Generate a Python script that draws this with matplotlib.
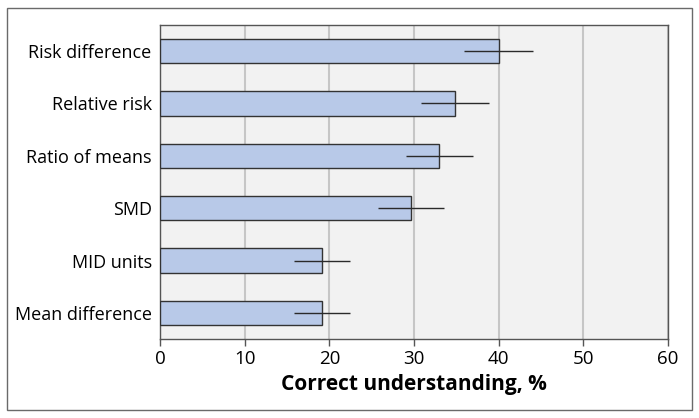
import numpy as np
import matplotlib
matplotlib.use('Agg')
import matplotlib.pyplot as plt
from matplotlib.patches import Rectangle

# ── Data ──
categories = ['Risk difference', 'Relative risk', 'Ratio of means',
              'SMD', 'MID units', 'Mean difference']
values = [40.0, 34.9, 33.0, 29.6, 19.1, 19.1]
ci_low = [35.9, 30.8, 29.1, 25.7, 15.8, 15.8]
ci_high = [44.1, 38.9, 37.0, 33.5, 22.4, 22.4]
xticks = [0, 10, 20, 30, 40, 50, 60]

plt.rcParams['font.family'] = ['Open Sans', 'DejaVu Sans']

fig = plt.figure(figsize=(6.99, 4.18), dpi=100)
ax = fig.add_axes([160 / 699, 1 - 339 / 418, 508 / 699, 314 / 418])

# outer frame around the whole figure
fig.patches.append(Rectangle((7 / 699, 8 / 418), 685 / 699, 402 / 418,
                             transform=fig.transFigure, fill=False,
                             edgecolor='#6a6a6a', linewidth=1.0))

ax.set_facecolor('#f2f2f2')
y = np.arange(len(categories))[::-1]
ax.barh(y, values, height=0.46, color='#b8c9e8', edgecolor='#333333',
        linewidth=1.0, zorder=3)

vals = np.array(values)
xerr = np.vstack([vals - np.array(ci_low), np.array(ci_high) - vals])
ax.errorbar(vals, y, xerr=xerr, fmt='none', ecolor='#2a2a2a',
            elinewidth=1.0, capsize=0, zorder=4)

ax.set_xlim(0, 60)
ax.set_ylim(-0.5, len(categories) - 0.5)
ax.set_xticks(xticks)
ax.set_yticks(y)
ax.set_yticklabels(categories, fontsize=13)
ax.tick_params(axis='y', length=0, pad=6)
ax.tick_params(axis='x', length=5, width=1, color='#555555',
               labelsize=13.5, pad=3)
ax.grid(axis='x', color='#c6c6c6', linewidth=1.5, zorder=0)
ax.set_axisbelow(True)
for s in ax.spines.values():
    s.set_color('#555555')
    s.set_linewidth(1.0)

ax.set_xlabel('Correct understanding, %', fontsize=15, fontweight='bold',
              labelpad=4)

fig.savefig('out.png', dpi=100)
